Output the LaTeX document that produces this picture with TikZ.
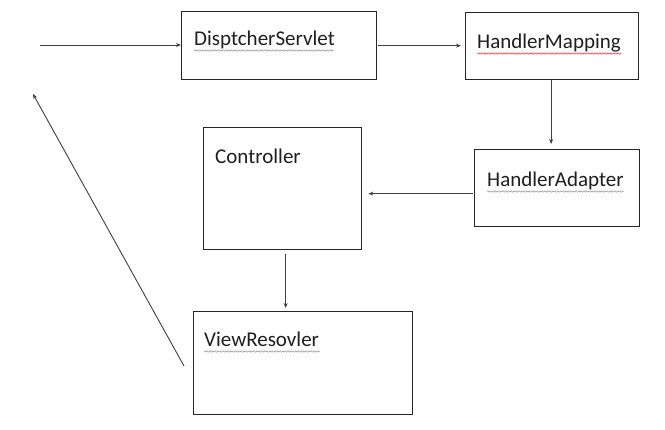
\documentclass[tikz,border=0pt]{standalone}
\usepackage{fontspec}
\setmainfont{Carlito}
\usetikzlibrary{arrows.meta,decorations.pathmorphing}
\begin{document}
\begin{tikzpicture}[x=1pt,y=-1pt,
  box/.style={draw=black!85,line width=1.3pt,rectangle,anchor=north west,inner sep=0pt},
  lbl/.style={anchor=base west,inner sep=0pt,text=black!88,font=\fontsize{21}{25}\selectfont},
  arr/.style={draw=black!75,line width=0.9pt,-{Stealth[length=5pt,width=4pt]}},
  squig/.style={draw=#1,line width=0.5pt,decorate,decoration={snake,amplitude=0.7pt,segment length=2.6pt}}]
\useasboundingbox (0,0) rectangle (665,430);
\fill[white] (0,0) rectangle (665,430);
% boxes
\node[box,minimum width=195pt,minimum height=68pt] (ds) at (181,11) {};
\node[box,minimum width=173pt,minimum height=67pt] (hm) at (465,12) {};
\node[box,minimum width=165pt,minimum height=77pt] (ha) at (474,149) {};
\node[box,minimum width=158pt,minimum height=122pt] (ctrl) at (203,127) {};
\node[box,minimum width=219pt,minimum height=103pt] (vr) at (193,311) {};
% labels
\node[lbl] (tds) at (194,46) {DisptcherServlet};
\node[lbl] (thm) at (477,49) {HandlerMapping};
\node[lbl] (tha) at (487,187) {HandlerAdapter};
\node[lbl] (tctrl) at (215,164) {Controller};
\node[lbl] (tvr) at (204,347) {ViewResovler};
% spell-check underlines
\draw[squig=black!40] (tds.base west) ++(0,4.5) -- ++(140,0);
\draw[squig=red!80] (thm.base west) ++(0,4.5) -- ++(144,0);
\draw[squig=black!40] (tha.base west) ++(0,4.5) -- ++(137,0);
\draw[squig=black!40] (tvr.base west) ++(0,4.5) -- ++(116,0);
% connectors
\coordinate (in) at (40,45);
\draw[arr] (in) -- (in -| ds.west);
\draw[arr,shorten <=1pt,shorten >=4pt] (ds.east) -- (ds.east -| hm.west);
\draw[arr,shorten >=5pt] ([xshift=-1pt]hm.south) -- ([xshift=-1pt]hm.south |- ha.north);
\draw[arr,shorten <=1pt,shorten >=6pt] ([yshift=-5.5pt]ha.west) -- ([yshift=-5.5pt]ha.west -| ctrl.east);
\draw[arr,shorten <=4pt,shorten >=3pt] ([xshift=3pt]ctrl.south) -- ([xshift=3pt]ctrl.south |- vr.north);
\coordinate (r1) at (184,366);
\coordinate (r2) at (33,94);
\draw[arr] (r1) -- (r2);
\end{tikzpicture}
\end{document}
